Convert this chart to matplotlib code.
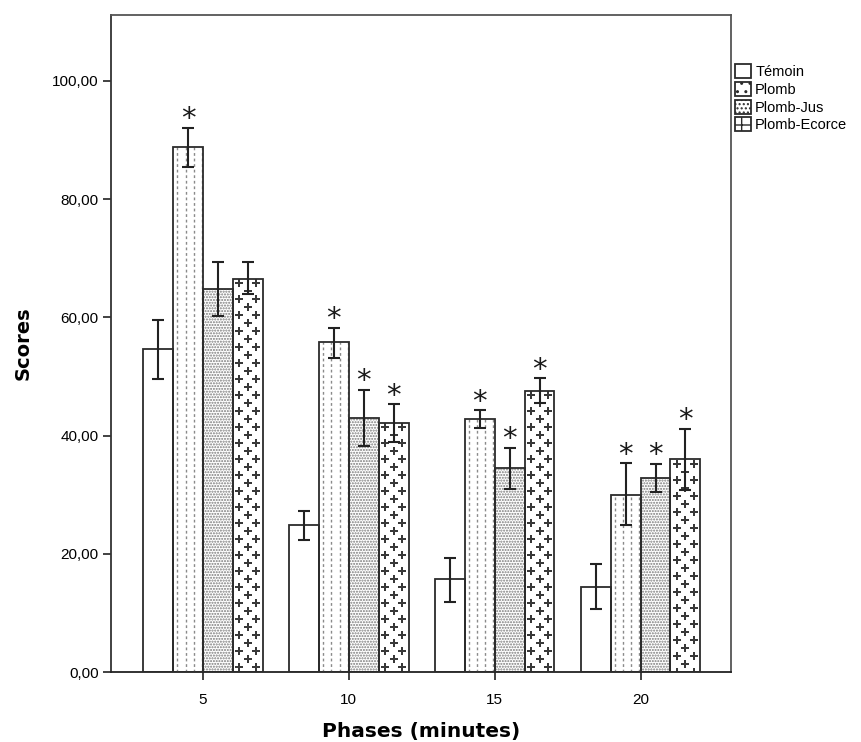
import matplotlib
matplotlib.use('Agg')
import matplotlib.pyplot as plt
from matplotlib.patches import Patch
import numpy as np

# =========================
# data
# =========================
phases = ['5', '10', '15', '20']
groups = ['Témoin', 'Plomb', 'Plomb-Jus', 'Plomb-Ecorce']

temoin = [54.6, 24.8, 15.7, 14.4]
plomb = [88.8, 55.8, 42.8, 29.9]
plomb_jus = [64.8, 43.0, 34.5, 32.8]
plomb_ecorce = [66.5, 42.2, 47.6, 36.0]

# error bar ends (low, high)
temoin_err = [(49.6, 59.5), (22.3, 27.3), (11.8, 19.3), (10.7, 18.2)]
plomb_err = [(85.4, 92.1), (53.2, 58.2), (41.3, 44.3), (24.8, 35.3)]
plomb_jus_err = [(60.3, 69.3), (38.2, 47.7), (31.0, 37.9), (30.5, 35.2)]
plomb_ecorce_err = [(64.0, 69.3), (39.0, 45.3), (45.6, 49.7), (30.8, 41.2)]

# significance stars
temoin_sig = [False, False, False, False]
plomb_sig = [True, True, True, True]
plomb_jus_sig = [False, True, True, True]
plomb_ecorce_sig = [False, True, True, True]

series = [
    (temoin, temoin_err, temoin_sig),
    (plomb, plomb_err, plomb_sig),
    (plomb_jus, plomb_jus_err, plomb_jus_sig),
    (plomb_ecorce, plomb_ecorce_err, plomb_ecorce_sig),
]

plt.rcParams['font.family'] = ['Liberation Sans', 'DejaVu Sans']

W, H = 861, 742
fig = plt.figure(figsize=(W / 100, H / 100), dpi=100)
ax = fig.add_axes([111 / W, 1 - 672 / H, (731 - 111) / W, (672 - 15) / H])

x = np.arange(len(phases))
width = 0.205
edge = '#2b2b2b'
px_per_unit_y = (672 - 81) / 100.0

bars_by_series = []
for i, (vals, errs, sig) in enumerate(series):
    pos = x + (i - 1.5) * width
    if i == 2:
        ax.bar(pos, vals, width, color='white', edgecolor='#7a7a7a',
               hatch='......', linewidth=0, zorder=2)
    else:
        ax.bar(pos, vals, width, color='white', linewidth=0, zorder=2)
    bars = ax.bar(pos, vals, width, fill=False, edgecolor=edge,
                  linewidth=1.3, zorder=4)
    bars_by_series.append((pos, vals, bars))

    lo = np.array([e[0] for e in errs])
    hi = np.array([e[1] for e in errs])
    v = np.array(vals)
    ax.errorbar(pos, v, yerr=[v - lo, hi - v], fmt='none', ecolor='#222222',
                elinewidth=1.5, capsize=4, capthick=1.5, zorder=6)
    for p, h, s in zip(pos, hi, sig):
        if s:
            ax.text(p, h - 0.9, '*', ha='center', va='bottom', fontsize=21,
                    family='DejaVu Sans', color='#1a1a1a', zorder=7)

# Plomb: dotted vertical lines
pos, vals, bars = bars_by_series[1]
for p, v, b in zip(pos, vals, bars):
    for off in (-0.35, -0.08, 0.19, 0.46):
        xl = p + off * width
        ax.vlines(xl, 0, v, colors='#8a8a8a', linewidth=1.0,
                  linestyles=(0, (2, 2)), zorder=3)

# Plomb-Ecorce: staggered plus signs
pos, vals, bars = bars_by_series[3]
row = 8.0 / px_per_unit_y
for p, v, b in zip(pos, vals, bars):
    ys = np.arange(v - 0.55 * row, 0, -row)
    xs_a = [p - 0.28 * width, p + 0.28 * width]
    xs_b = [p]
    px, py = [], []
    for k, yy in enumerate(ys):
        for xx in (xs_a if k % 2 == 0 else xs_b):
            px.append(xx)
            py.append(yy)
    sc = ax.scatter(px, py, marker='P', s=40, color='#383838',
                    linewidths=0, zorder=3)
    sc.set_clip_path(b)

ax.set_xlim(-0.63, 3.62)
ax.set_ylim(0, (672 - 15) / px_per_unit_y)
ax.set_xticks(x)
ax.set_xticklabels(phases, fontsize=11)
yt = [0, 20, 40, 60, 80, 100]
ax.set_yticks(yt)
ax.set_yticklabels([f'{t:.2f}'.replace('.', ',') for t in yt], fontsize=11)
ax.tick_params(axis='both', length=6, width=1.3, color='#333333', pad=3)
ax.tick_params(axis='x', pad=9)

for s in ax.spines.values():
    s.set_color('#555555')
    s.set_linewidth(1.3)
ax.spines['left'].set_color('#333333')
ax.spines['bottom'].set_color('#222222')

ax.set_xlabel('Phases (minutes)', fontsize=14.5, fontweight='bold',
              family='DejaVu Sans', labelpad=11)
ax.set_ylabel('Scores', fontsize=14, fontweight='bold',
              family='DejaVu Sans', labelpad=14)

# legend
handles = [
    Patch(facecolor='white', edgecolor=edge, linewidth=1.3),
    Patch(facecolor='white', edgecolor=edge, linewidth=1.3, hatch='..'),
    Patch(facecolor='white', edgecolor=edge, linewidth=1.3, hatch='....'),
    Patch(facecolor='white', edgecolor=edge, linewidth=1.3, hatch='+'),
]
leg = fig.legend(handles, groups, loc='upper left',
                 bbox_to_anchor=(729 / W, 1 - 58 / H), frameon=False,
                 fontsize=10.5, handlelength=1.1, handleheight=1.1,
                 handletextpad=0.3, labelspacing=0.2, borderaxespad=0)

fig.savefig('out.png', dpi=100)
